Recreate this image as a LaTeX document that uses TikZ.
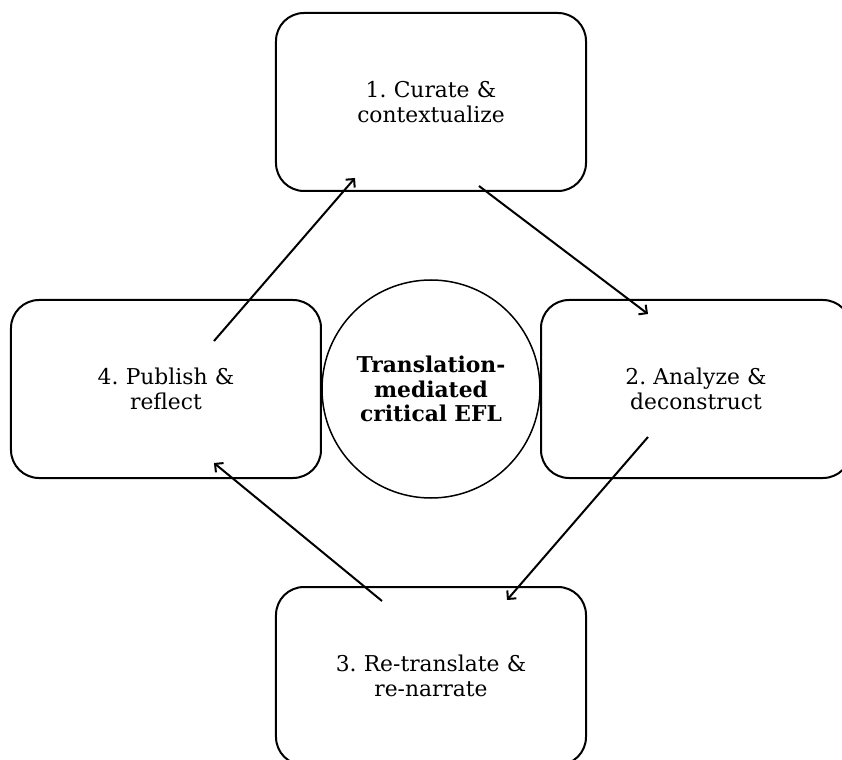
\documentclass[tikz,border=0pt]{standalone}
\usepackage{fontspec}
\setmainfont{DejaVu Serif}
\usetikzlibrary{arrows.meta}
\frenchspacing

\begin{document}
\begin{tikzpicture}
    \def\dx{265bp}
    \def\dy{287bp}

    \useasboundingbox (-431bp,-371bp) rectangle (411bp,389bp);
    \clip (-431bp,-371bp) rectangle (411bp,389bp);

    \tikzstyle{step box}=[draw=black,line width=2bp,rounded corners=28bp,minimum width=310bp,minimum height=178bp,text width=290bp,align=center,font=\fontsize{21.8bp}{24.5bp}\selectfont]
    \tikzstyle{hub}=[draw=black,circle,line width=1.5bp,minimum size=218bp,inner sep=0pt,text width=190bp,align=center,font=\fontsize{21.8bp}{24.5bp}\selectfont\bfseries]

    \node[hub]       (hub) at (0*\dx,0*\dy)  {Translation-\\mediated\\critical EFL};
    \node[step box]  (s1)  at (0*\dx,1*\dy)  {1. Curate \&\\contextualize};
    \node[step box]  (s2)  at (1*\dx,0*\dy)  {2. Analyze \&\\deconstruct};
    \node[step box]  (s3)  at (0*\dx,-1*\dy) {3. Re-translate \&\\re-narrate};
    \node[step box]  (s4)  at (-1*\dx,0*\dy) {4. Publish \&\\reflect};

    \tikzstyle{fwd} = [draw=black, line width=2bp, -{Straight Barb[length=6bp,width=12bp]}]

          \draw [fwd] ([shift={(48bp,6bp)}]s1.south) -- ([shift={(-48bp,-15bp)}]s2.north);
          \draw [fwd] ([shift={(-48bp,42bp)}]s2.south) -- ([shift={(76bp,-14bp)}]s3.north);
          \draw [fwd] ([shift={(-49bp,-15bp)}]s3.north) -- ([shift={(48bp,16bp)}]s4.south);
          \draw [fwd] ([shift={(48bp,-42bp)}]s4.north) -- ([shift={(-76bp,14bp)}]s1.south);

  \end{tikzpicture}
\end{document}
